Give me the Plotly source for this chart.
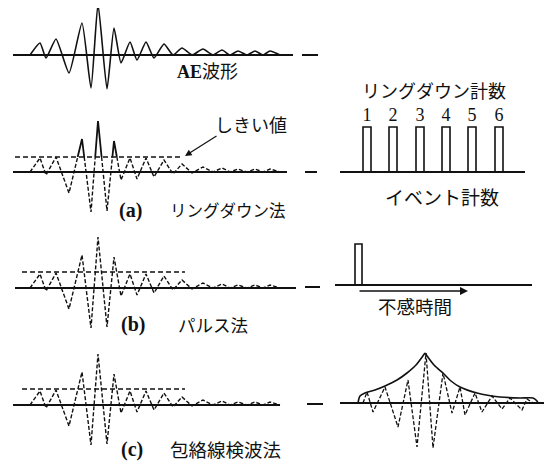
import plotly.graph_objects as go
import numpy as np

# ---------------- data (in px units) ----------------
# AE waveform: time positions and amplitudes (up = positive)
wave_t = [30, 40, 46, 56, 69, 82, 91, 98, 107, 114, 121, 130, 137, 146, 154, 164,
          173, 182, 192, 203, 213, 222, 230, 238, 247, 255, 263, 270, 280]
ae_amp = [0, 12, -3, 16, -18, 32, -33, 51, -34, 27, -8, 13, -5, 13, -3, 11,
          0, 7, 0, 6, 0, 5, 0, 4, 0, 4, 0, 4, 0]
det_amp = [0, 14, -3, 15, -21, 33, -40, 51, -39, 31, -8, 14, -7, 14, -5, 12,
           -2, 8, -1, 5, 0, 4, 0, 3, 0, 3, 0, 3, 0]
thresholds = [15, 16, 16]          # (a), (b), (c)

ring_counts = [1, 2, 3, 4, 5, 6]
ring_t = [367, 393, 420, 446, 472, 499]
ring_height = 45
pulse_t = [358.5]
pulse_height = 41

# envelope-detection panel (right, c)
rect_t = [363, 367, 373, 385, 398, 408, 417, 426, 433, 443, 452, 460, 465, 475,
          482, 492, 502, 510, 522, 527, 533]
rect_a = [0, 11, -9, 16, -24, 23, -44, 50, -45, 30, -10, 16, -12, 10, -9, 7,
          -6, 5, -7, 4, 0]
env_rise_t = [358, 360, 365, 375, 385, 397, 407, 416, 425]
env_rise_a = [0, 7, 10, 13, 17, 23, 30, 38, 50]
env_fall_t = [425, 434, 443, 451, 460, 477, 500, 520, 533, 537, 538]
env_fall_a = [50, 38, 30, 22, 16, 10, 6, 5, 5, 2, 0]

# ---------------- layout constants ----------------
LEFT_BASE = [55, 172, 288, 405]
RIGHT_BASE = [172, 285, 403]
BLACK = "#111111"
JP = "Noto Sans CJK JP"
SERIF = "Liberation Serif, Noto Sans CJK JP"
PAGE_OFF = 8  # default body margin of the html page

fig = go.Figure()


def line(x, y, width=1.4, dash="solid", shape="linear", smoothing=1.0):
    fig.add_trace(go.Scatter(x=x, y=y, mode="lines", hoverinfo="skip",
                             line=dict(color=BLACK, width=width, dash=dash,
                                       shape=shape, smoothing=smoothing),
                             showlegend=False))


def ys(base, amps):
    return [base - a for a in amps]


def split_threshold(t, a, th):
    runs = []  # list of (solid?, xs, ys)
    for i in range(len(t) - 1):
        t0, a0, t1, a1 = t[i], a[i], t[i + 1], a[i + 1]
        pieces = []
        if (a0 > th) == (a1 > th):
            pieces.append((t0, a0, t1, a1, a0 > th))
        else:
            f = (th - a0) / (a1 - a0)
            tc = t0 + f * (t1 - t0)
            pieces.append((t0, a0, tc, th, a0 > th))
            pieces.append((tc, th, t1, a1, a1 > th))
        for x0, y0, x1, y1, s in pieces:
            if runs and runs[-1][0] == s:
                runs[-1][1].append(x1)
                runs[-1][2].append(y1)
            else:
                runs.append([s, [x0, x1], [y0, y1]])
    sx, sy, dx, dy = [], [], [], []
    for s, xs_, as_ in runs:
        if s:
            sx += xs_ + [None]; sy += as_ + [None]
        else:
            dx += xs_ + [None]; dy += as_ + [None]
    return sx, sy, dx, dy


# ---------- top: AE waveform ----------
b = LEFT_BASE[0]
line([13, 293], [b, b], width=2)
line(wave_t, ys(b, ae_amp), width=1.6, shape="spline", smoothing=0.5)
line([302, 318], [b, b], width=2)

# ---------- (a) ring-down ----------
b = LEFT_BASE[1]
th = thresholds[0]
line([13, 287], [b, b], width=2)
line([15, 182], [b - th, b - th], width=1.5, dash="5px,3px")
sx, sy, dx, dy = split_threshold(wave_t, det_amp, th)
line(dx, [None if v is None else b - v for v in dy], width=1.4, dash="4px,2px")
line(sx, [None if v is None else b - v for v in sy], width=1.8)
line([305, 317], [b, b], width=2)

# ---------- (b) pulse ----------
b = LEFT_BASE[2]
th = thresholds[1]
line([15, 296], [b, b], width=2)
line([22, 185], [b - th, b - th], width=1.5, dash="5px,3px")
line(wave_t, ys(b, det_amp), width=1.4, dash="4px,2px")
line([305, 320], [RIGHT_BASE[1] + 2, RIGHT_BASE[1] + 2], width=2)

# ---------- (c) envelope ----------
b = LEFT_BASE[3]
th = thresholds[2]
line([13, 280], [b, b], width=2)
line([22, 185], [b - th, b - th], width=1.5, dash="5px,3px")
line(wave_t, ys(b, det_amp), width=1.4, dash="4px,2px")
line([307, 323], [RIGHT_BASE[2] + 1, RIGHT_BASE[2] + 1], width=2)

# ---------- right (a): ring-down count bars ----------
rb = RIGHT_BASE[0]
line([340, 525], [rb, rb], width=2)
bx, by = [], []
for t in ring_t:
    bx += [t - 4, t - 4, t + 4, t + 4, None]
    by += [rb, rb - ring_height, rb - ring_height, rb, None]
line(bx, by, width=1.6)
fig.add_trace(go.Scatter(x=ring_t, y=[rb - ring_height - 11] * len(ring_t),
                         mode="text", text=[str(c) for c in ring_counts],
                         textfont=dict(family="Liberation Serif", size=18, color=BLACK),
                         hoverinfo="skip", showlegend=False))

# ---------- right (b): pulse ----------
rb = RIGHT_BASE[1]
line([335, 532], [rb, rb], width=2)
px, py = [], []
for t in pulse_t:
    px += [t - 3.5, t - 3.5, t + 3.5, t + 3.5, None]
    py += [rb, rb - pulse_height, rb - pulse_height, rb, None]
line(px, py, width=1.6)

# ---------- right (c): envelope ----------
rb = RIGHT_BASE[2]
line([340, 547], [rb, rb], width=2)
line(rect_t, ys(rb, rect_a), width=1.3, dash="4px,2px")
line(env_rise_t, ys(rb, env_rise_a), width=1.6, shape="spline", smoothing=0.8)
line(env_fall_t, ys(rb, env_fall_a), width=1.6, shape="spline", smoothing=0.8)

# ---------- text ----------
def text(x, y, s, size=16, family=JP, xanchor="left"):
    fig.add_annotation(x=x, y=y, xref="x", yref="y", text=s, showarrow=False,
                       xanchor=xanchor, yanchor="middle",
                       font=dict(family=family, size=size, color=BLACK))

text(175, 70, "<b>AE</b><span style='font-family:Noto Sans CJK JP'>波形</span>",
     size=18, family=SERIF)
text(213, 124, "しきい値", size=18)
text(117, 210, "<b>(a)</b>", size=20, family=SERIF)
text(168, 210, "リングダウン法", size=16.5)
text(434, 90, "リングダウン計数", size=18, xanchor="center")
text(442, 196, "イベント計数", size=19, xanchor="center")
text(119, 324, "<b>(b)</b>", size=20, family=SERIF)
text(176, 324, "パルス法", size=17.5)
text(415, 306, "不感時間", size=18.5, xanchor="center")
text(119, 449, "<b>(c)</b>", size=20, family=SERIF)
text(168, 449, "包絡線検波法", size=18.5)

# threshold pointer arrow
fig.add_annotation(x=185, y=156, ax=218, ay=135, xref="x", yref="y",
                   axref="x", ayref="y", text="", showarrow=True,
                   arrowhead=2, arrowsize=1.1, arrowwidth=1.2, arrowcolor=BLACK)
# dead-time arrow
fig.add_annotation(x=468, y=291, ax=358, ay=291, xref="x", yref="y",
                   axref="x", ayref="y", text="", showarrow=True,
                   arrowhead=2, arrowsize=1.0, arrowwidth=1.6, arrowcolor=BLACK)

fig.update_layout(
    width=552, height=463, margin=dict(l=0, r=0, t=0, b=0),
    paper_bgcolor="white", plot_bgcolor="white",
    xaxis=dict(range=[PAGE_OFF, 552 + PAGE_OFF], visible=False, fixedrange=True),
    yaxis=dict(range=[463 + PAGE_OFF, PAGE_OFF], visible=False, fixedrange=True),
)
fig.write_html("out.html")
